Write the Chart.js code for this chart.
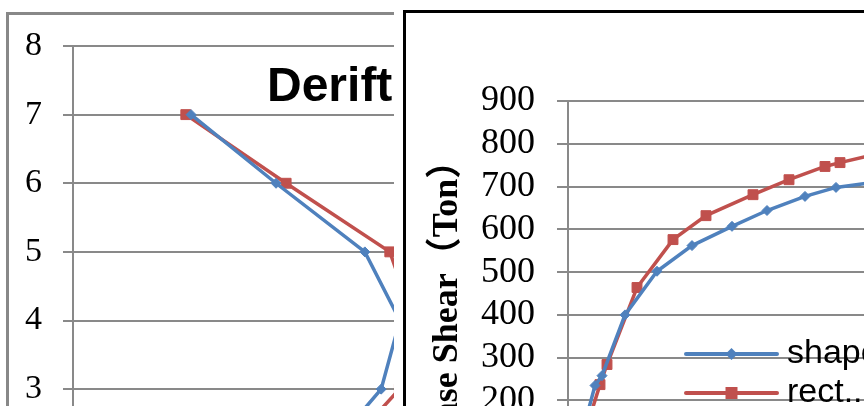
<!DOCTYPE html>
<html>
<head>
<meta charset="utf-8">
<script src="https://cdn.jsdelivr.net/npm/chart.js@4.4.1/dist/chart.umd.min.js"></script>
<style>
  html, body { margin: 0; padding: 0; width: 864px; height: 406px; overflow: hidden; background: #fff; }
  #left-box { position: absolute; left: 6px; top: 12px; width: 600px; height: 620px; border: 3px solid #888; background: #fff; overflow: hidden; }
  #right-cover { position: absolute; left: 394px; top: 0; width: 480px; height: 420px; background: #fff; }
  #right-box { position: absolute; left: 9px; top: 10px; width: 800px; height: 800px; border: 3px solid #000; background: #fff; overflow: hidden; }
  canvas { position: absolute; left: 0; top: 0; }
</style>
</head>
<body>
<div id="left-box"><canvas id="drift-chart" width="544" height="600"></canvas></div>
<div id="right-cover"><div id="right-box"><canvas id="shear-chart" width="762" height="500"></canvas></div></div>
<script>
// ---- 層間位移圖 (left) ----
const stories     = [7, 6, 5, 4, 3, 2, 1];
const driftShape  = [2.46, 4.23, 6.08, 6.81, 6.42, 5.2, 3.4];
const driftRect   = [2.35, 4.44, 6.6, 7.1, 6.8, 5.5, 3.6];
const storyTicks  = [0, 1, 2, 3, 4, 5, 6, 7, 8];

// ---- 基底剪力曲線 (right) ----
const shapeDisp  = [0, 5.4, 6.8, 11.4, 17.8, 24.8, 32.8, 39.8, 47.4, 53.6, 62.4];
const shapeShear = [0, 235, 258, 400, 502, 562, 607, 644, 677, 698, 712];
const rectDisp   = [0, 6.4, 7.8, 13.8, 21.0, 27.6, 37.0, 44.2, 51.4, 54.4, 62.4];
const rectShear  = [0, 237, 284, 464, 576, 632, 681, 716, 747, 756, 778];
const shearTicks = [0, 100, 200, 300, 400, 500, 600, 700, 800, 900];

const seriesNames = ['shape', 'rect...'];
const BLUE = '#4F81BD';
const RED  = '#C0504D';
const GRID = '#898989';
const SERIF = "'Liberation Serif', 'Times New Roman', serif";
const SANS  = "'Liberation Sans', Arial, sans-serif";

const toPoints = (xs, ys) => xs.map((x, i) => ({ x, y: ys[i] }));

function lineSet(label, points, color, style, radius) {
  return {
    label,
    data: points,
    showLine: true,
    borderColor: color,
    backgroundColor: color,
    borderWidth: 3.5,
    pointStyle: style,
    pointRadius: radius,
    pointBorderWidth: 1,
    pointBorderColor: color,
    pointBackgroundColor: color,
    tension: 0,
  };
}

// y 軸寬度固定，並去掉刻度文字帶來的上下留白
const fixAxis = width => s => {
  s.width = width;
  s.paddingTop = 0;
  s.paddingBottom = 0;
};

// 圖內標題（Excel 風格，疊在繪圖區上）
const overlayTitle = {
  id: 'overlayTitle',
  afterDraw(chart, args, opts) {
    const { ctx, chartArea } = chart;
    ctx.save();
    ctx.font = 'bold 48px ' + SANS;
    ctx.fillStyle = '#000';
    ctx.textBaseline = 'alphabetic';
    ctx.fillText(opts.text, chartArea.left + opts.dx, chartArea.top + opts.dy);
    ctx.restore();
  }
};

// 圖內圖例
const insideLegend = {
  id: 'insideLegend',
  afterDraw(chart, args, opts) {
    const { ctx, chartArea } = chart;
    ctx.save();
    chart.data.datasets.forEach((ds, i) => {
      const x0 = chartArea.left + opts.dx;
      const x1 = x0 + opts.lineLen;
      const y = chartArea.top + opts.dy + i * opts.rowGap;
      ctx.strokeStyle = ds.borderColor;
      ctx.lineWidth = 4;
      ctx.lineCap = 'round';
      ctx.beginPath(); ctx.moveTo(x0, y); ctx.lineTo(x1, y); ctx.stroke();
      const cx = (x0 + x1) / 2;
      ctx.fillStyle = ds.borderColor;
      ctx.beginPath();
      if (ds.pointStyle === 'rectRot') {
        const r = 6;
        ctx.moveTo(cx - r, y); ctx.lineTo(cx, y - r); ctx.lineTo(cx + r, y); ctx.lineTo(cx, y + r);
      } else {
        const s = 6;
        ctx.rect(cx - s, y - s, 2 * s, 2 * s);
      }
      ctx.closePath(); ctx.fill();
      ctx.font = '34px ' + SANS;
      ctx.fillStyle = '#000';
      ctx.textBaseline = 'middle';
      ctx.fillText(ds.label, x1 + 10, y);
    });
    ctx.restore();
  }
};

new Chart(document.getElementById('drift-chart'), {
  type: 'scatter',
  data: {
    datasets: [
      lineSet(seriesNames[0], toPoints(driftShape, stories), BLUE, 'rectRot', 5),
      lineSet(seriesNames[1], toPoints(driftRect, stories), RED, 'rect', 7),
    ]
  },
  options: {
    responsive: false,
    animation: false,
    layout: { autoPadding: false, padding: { top: 31, bottom: 20, left: 0, right: 0 } },
    plugins: {
      legend: { display: false },
      tooltip: { enabled: false },
      overlayTitle: { text: 'Derift', dx: 194, dy: 55 },
    },
    scales: {
      x: { type: 'linear', min: 0, max: 10, display: false },
      y: {
        type: 'linear', min: 0, max: 8,
        afterBuildTicks: s => { s.ticks = storyTicks.map(v => ({ value: v })); },
        afterFit: fixAxis(64),
        grid: { color: GRID, lineWidth: 2, tickLength: 10, drawTicks: true },
        border: { color: GRID, width: 2 },
        ticks: { autoSkip: false, color: '#000', padding: 21, font: { family: SERIF, size: 34 } },
      }
    }
  },
  plugins: [overlayTitle]
});

new Chart(document.getElementById('shear-chart'), {
  type: 'scatter',
  data: {
    datasets: [
      lineSet(seriesNames[0], toPoints(shapeDisp, shapeShear), BLUE, 'rectRot', 5),
      lineSet(seriesNames[1], toPoints(rectDisp, rectShear), RED, 'rect', 7),
    ]
  },
  options: {
    responsive: false,
    animation: false,
    layout: { autoPadding: false, padding: { top: 88, bottom: 27, left: 0, right: 0 } },
    plugins: {
      legend: { display: false },
      tooltip: { enabled: false },
      insideLegend: { dx: 118, dy: 253, lineLen: 91, rowGap: 39 },
    },
    scales: {
      x: { type: 'linear', min: 0, max: 120, display: false },
      y: {
        type: 'linear', min: 0, max: 900,
        afterBuildTicks: s => { s.ticks = shearTicks.map(v => ({ value: v })); },
        afterFit: fixAxis(162),
        grid: { color: GRID, lineWidth: 2, tickLength: 11, drawTicks: true },
        border: { color: GRID, width: 2 },
        ticks: { autoSkip: false, color: '#000', padding: 22, font: { family: SERIF, size: 36 } },
        title: {
          display: true,
          text: 'Base Shear（Ton）',
          color: '#000',
          padding: { top: 20, bottom: 0 },
          font: { family: SERIF + ", 'Noto Sans CJK SC'", size: 36, weight: 'bold' },
        }
      }
    }
  },
  plugins: [insideLegend]
});
</script>
</body>
</html>
